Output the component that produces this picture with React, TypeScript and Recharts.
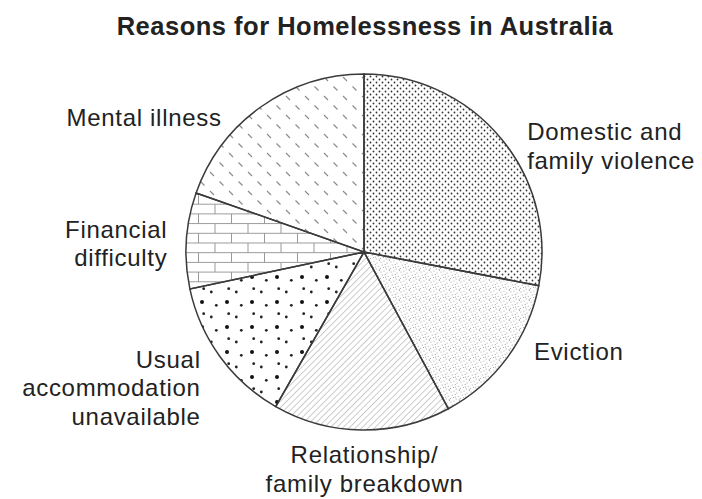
import { Cell, Pie, PieChart } from "recharts";

const LABELS = [
	"Domestic and family violence",
	"Eviction",
	"Relationship/family breakdown",
	"Usual accommodation unavailable",
	"Financial difficulty",
	"Mental illness",
];
const LABEL_LINES = [
	["Domestic and", "family violence"],
	["Eviction"],
	["Relationship/", "family breakdown"],
	["Usual", "accommodation", "unavailable"],
	["Financial", "difficulty"],
	["Mental illness"],
];
// share of each reason (%)
const SHARES = [28.0, 14.1, 16.1, 13.4, 8.7, 19.6];

const FILLS = ["fine-dots", "stipple", "hatch", "big-dots", "brick", "dash"];
// hand placement of each label relative to its slice direction
const LABEL_NUDGE = [
	[12, 19],
	[12, -17],
	[3, 21],
	[-5, 20],
	[-1, 4],
	[-29, 25],
];

const RADIAN = Math.PI / 180;
const FONT = "'Liberation Sans', Arial, Helvetica, sans-serif";
const LINE_H = 28.5;
const CAP = 17;

const chartData = LABELS.map((name, i) => ({ name, value: SHARES[i] }));

function renderLabel(props: any) {
	const { cx, cy, midAngle, outerRadius, index } = props;
	const r = outerRadius + 18;
	const [dx, dy] = LABEL_NUDGE[index];
	const x = cx + r * Math.cos(-midAngle * RADIAN) + dx;
	const y = cy + r * Math.sin(-midAngle * RADIAN) + dy;
	const anchor = x > cx + 40 ? "start" : x < cx - 40 ? "end" : "middle";
	const lines = LABEL_LINES[index];
	const first = y - ((lines.length - 1) * LINE_H) / 2 + CAP / 2;
	return (
		<text
			key={`label-${index}`}
			x={x}
			y={first}
			textAnchor={anchor}
			fontFamily={FONT}
			fontSize={24}
			letterSpacing={0.7}
			fill="#222"
		>
			{lines.map((line, i) => (
				<tspan key={line} x={x} dy={i === 0 ? 0 : LINE_H}>
					{line}
				</tspan>
			))}
		</text>
	);
}

export default function App() {
	return (
		<div
			style={{
				position: "absolute",
				left: 0,
				top: 0,
				width: 702,
				height: 499,
				background: "#fff",
			}}
		>
			<PieChart
				width={702}
				height={499}
				margin={{ top: 0, right: 0, bottom: 0, left: 0 }}
			>
				<defs>
					<pattern id="fine-dots" width={6} height={6} patternUnits="userSpaceOnUse">
						<circle cx={1.5} cy={1.5} r={0.9} fill="#333" />
						<circle cx={4.5} cy={4.5} r={0.9} fill="#333" />
					</pattern>
					<pattern id="stipple" width={10} height={10} patternUnits="userSpaceOnUse">
						<circle cx={1} cy={2} r={0.5} fill="#888" />
						<circle cx={4} cy={1} r={0.5} fill="#888" />
						<circle cx={7} cy={3} r={0.5} fill="#888" />
						<circle cx={9.3} cy={0.6} r={0.5} fill="#888" />
						<circle cx={2.2} cy={5} r={0.5} fill="#888" />
						<circle cx={5.2} cy={4.6} r={0.5} fill="#888" />
						<circle cx={8.2} cy={6.2} r={0.5} fill="#888" />
						<circle cx={0.6} cy={8.2} r={0.5} fill="#888" />
						<circle cx={3.6} cy={7.6} r={0.5} fill="#888" />
						<circle cx={6.2} cy={9.1} r={0.5} fill="#888" />
						<circle cx={9.2} cy={9.2} r={0.5} fill="#888" />
						<circle cx={5.4} cy={7} r={0.5} fill="#888" />
					</pattern>
					<pattern
						id="hatch"
						width={4.5}
						height={4.5}
						patternUnits="userSpaceOnUse"
						patternTransform="rotate(45)"
					>
						<line x1={0} y1={0} x2={0} y2={4.5} stroke="#999" strokeWidth={1} />
					</pattern>
					<pattern id="big-dots" width={25} height={25} patternUnits="userSpaceOnUse">
						<circle cx={2} cy={2} r={2} fill="#111" />
						<circle cx={16.3} cy={5.3} r={1.4} fill="#222" />
						<circle cx={3.7} cy={13.7} r={1.4} fill="#222" />
						<circle cx={11.3} cy={17} r={1.4} fill="#222" />
					</pattern>
					<pattern id="brick" width={33} height={19.4} patternUnits="userSpaceOnUse">
						<line x1={0} y1={0.5} x2={33} y2={0.5} stroke="#999" strokeWidth={1} />
						<line x1={0} y1={10.2} x2={33} y2={10.2} stroke="#999" strokeWidth={1} />
						<line x1={0.5} y1={0} x2={0.5} y2={10.2} stroke="#999" strokeWidth={1} />
						<line x1={17} y1={10.2} x2={17} y2={19.4} stroke="#999" strokeWidth={1} />
					</pattern>
					<pattern id="dash" width={19} height={19} patternUnits="userSpaceOnUse">
						<line x1={1} y1={1} x2={5} y2={5} stroke="#888" strokeWidth={1.1} />
						<line x1={10.5} y1={10.5} x2={14.5} y2={14.5} stroke="#888" strokeWidth={1.1} />
					</pattern>
				</defs>
				<text
					x={365}
					y={35}
					textAnchor="middle"
					fontFamily={FONT}
					fontWeight="bold"
					fontSize={25.5}
					letterSpacing={0.5}
					fill="#222"
				>
					Reasons for Homelessness in Australia
				</text>
				<Pie
					data={chartData}
					dataKey="value"
					nameKey="name"
					cx={364}
					cy={252}
					outerRadius={178}
					startAngle={90}
					endAngle={-270}
					stroke="#3a3a3a"
					strokeWidth={1.5}
					label={renderLabel}
					labelLine={false}
					isAnimationActive={false}
				>
					{chartData.map((_, index) => (
						<Cell key={`cell-${index}`} fill={`url(#${FILLS[index]})`} />
					))}
				</Pie>
			</PieChart>
		</div>
	);
}
